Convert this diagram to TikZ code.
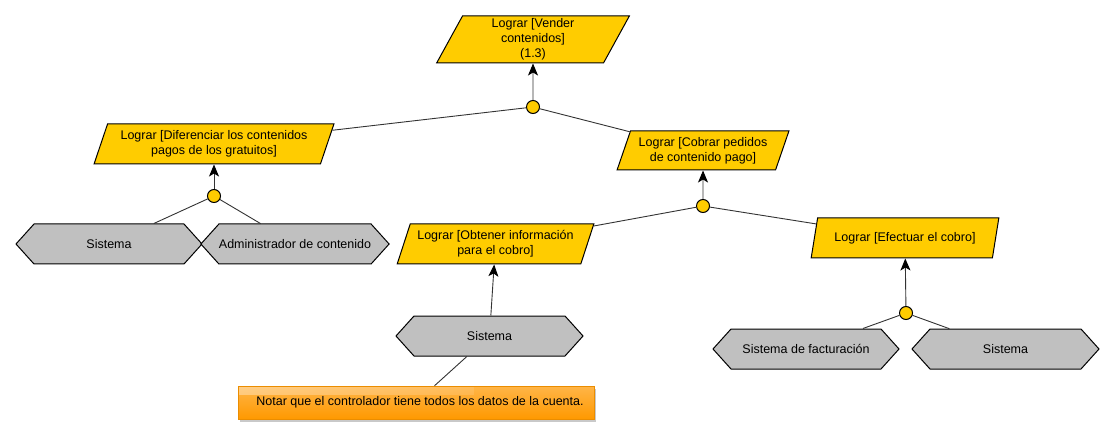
\documentclass[tikz,border=0pt]{standalone}
\usepackage{fontspec}
\setmainfont{Liberation Sans}
\usetikzlibrary{shapes.geometric,shapes.symbols,arrows.meta,shadows,fadings}
\definecolor{goalY}{HTML}{FFCC00}
\definecolor{actG}{HTML}{C0C0C0}
\definecolor{noteA}{HTML}{FFB548}
\definecolor{noteB}{HTML}{FF9900}
\begin{document}
\begin{tikzpicture}[x=1pt,y=-1pt,
  font=\fontsize{12.5pt}{15pt}\selectfont,
  goal/.style={trapezium, trapezium left angle=66, trapezium right angle=114,
    trapezium stretches=true, draw=black, line width=1pt, fill=goalY,
    inner sep=0pt, align=center},
  actor/.style={signal, signal to=west and east, signal pointer angle=96,
    draw=black, line width=1pt, fill=actG, minimum height=40pt, inner sep=0pt},
  andnode/.style={circle, draw=black, line width=1pt, fill=goalY,
    minimum size=13pt, inner sep=0pt},
  link/.style={draw=black!80, line width=0.9pt},
  arr/.style={link, -{Stealth[length=12pt,width=10pt,inset=3pt,fill=black,color=black]}},
  note/.style={rectangle, minimum width=356pt, minimum height=33pt, inner sep=0pt,
    top color=noteA, bottom color=noteB, draw=noteB!92!black, line width=0.5pt,
    drop shadow={shadow xshift=2pt, shadow yshift=-3pt, opacity=0.3, fill=black!70},
    path picture={\fill[white, opacity=0.35, path fading=east]
      (path picture bounding box.north west) rectangle
      ([xshift=-120pt, yshift=-9pt]path picture bounding box.north east);}},
]
\useasboundingbox (0,0) rectangle (1115,435);

% goals
\node[goal, minimum width=193pt, minimum height=47pt,
  trapezium left angle=70, trapezium right angle=110] (g0) at (533,39.5)
  {Lograr [Vender\\contenidos]\\(1.3)};
\node[goal, minimum width=240pt, minimum height=40pt] (g1) at (214,144)
  {Lograr [Diferenciar los contenidos\\pagos de los gratuitos]};
\node[goal, minimum width=172pt, minimum height=39pt] (g2) at (703,150.5)
  {Lograr [Cobrar pedidos\\de contenido pago]};
\node[goal, minimum width=197pt, minimum height=40pt] (g3) at (495.5,244)
  {Lograr [Obtener información\\para el cobro]};
\node[goal, minimum width=188pt, minimum height=40pt] (g4) at (905,238)
  {Lograr [Efectuar el cobro]};

% and-nodes
\node[andnode] (a0) at (533,107) {};
\node[andnode] (a1) at (214,196) {};
\node[andnode] (a2) at (703,206) {};
\node[andnode] (a3) at (906,313) {};

% actors
\node[actor, minimum width=186pt] (s1) at (109,244) {Sistema};
\node[actor, minimum width=186pt] (s2) at (295,244) {Administrador de contenido};
\node[actor, minimum width=187pt] (s3) at (489.5,336) {Sistema};
\node[actor, minimum width=186pt] (s4) at (806,349) {Sistema de facturación};
\node[actor, minimum width=187pt] (s5) at (1005.5,349) {Sistema};

% note
\node[note] (n1) at (416,402.5)
  {\hspace{8pt}Notar que el controlador tiene todos los datos de la cuenta.};

% connectors
\draw[arr] (a0) -- (g0);
\draw[link] (a0) -- (g1);
\draw[link] (a0) -- (g2);
\draw[arr] (a1) -- (g1);
\draw[link] (a1) -- (s1);
\draw[link] (a1) -- (s2);
\draw[arr] (a2) -- (g2);
\draw[link] (a2) -- (g3);
\draw[link] (a2) -- (g4);
\draw[arr] (s3) -- (g3);
\draw[link] (s3) -- (n1);
\draw[arr] (a3) -- (g4);
\draw[link] (a3) -- (s4);
\draw[link] (a3) -- (s5);
\end{tikzpicture}
\end{document}
